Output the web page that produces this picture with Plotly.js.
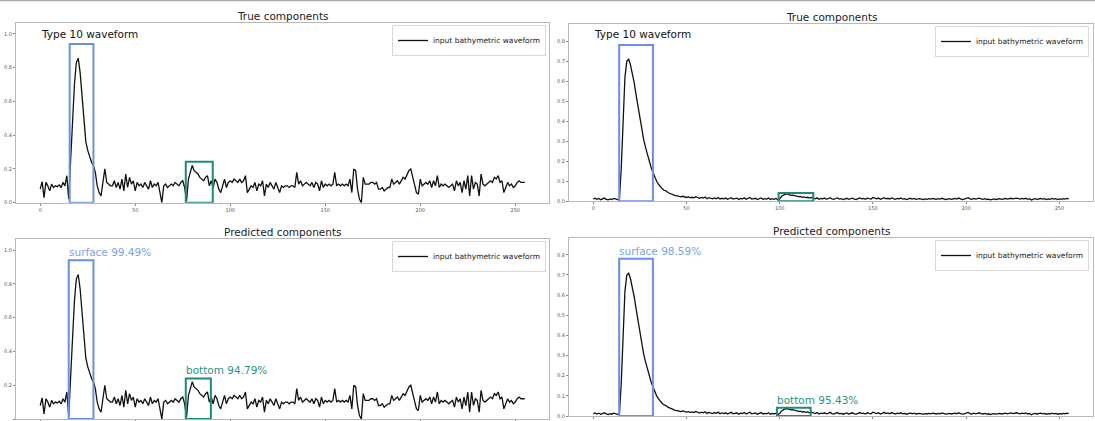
<!DOCTYPE html>
<html>
<head>
<meta charset="utf-8">
<script src="https://cdn.plot.ly/plotly-3.0.1.min.js"></script>
<style>html,body{margin:0;padding:0;background:#fff;}#chart{width:1095px;height:421px;}</style>
</head>
<body>
<div id="chart"></div>
<script>
// ---------- data ----------
const seriesName = "input bathymetric waveform";
const titleTrue = "True components";
const titlePred = "Predicted components";
const typeLabel = "Type 10 waveform";

// left waveform (bins 0..255)
const waveLeft = [
0.08,0.125,0.03,0.12,0.10,0.07,0.11,0.09,0.10,0.095,0.105,0.09,0.12,0.10,0.16,0.02,0.25,0.48,0.70,0.83,
0.856,0.77,0.62,0.48,0.36,0.31,0.27,0.24,0.22,0.18,0.10,0.06,0.04,0.12,0.20,0.12,0.11,0.10,0.10,0.13,
0.09,0.12,0.08,0.14,0.07,0.17,0.09,0.15,0.11,0.13,0.07,0.12,0.10,0.11,0.09,0.12,0.10,0.08,0.13,0.09,
0.11,0.10,0.12,0.06,0.00,0.10,0.11,0.09,0.10,0.11,0.10,0.12,0.11,0.10,0.12,0.13,0.09,0.01,0.14,0.18,
0.22,0.19,0.18,0.17,0.15,0.14,0.13,0.15,0.16,0.10,0.13,0.09,0.14,0.12,0.08,0.06,0.10,0.14,0.09,0.12,
0.13,0.12,0.14,0.13,0.12,0.14,0.12,0.13,0.16,0.06,0.08,0.10,0.09,0.12,0.07,0.11,0.10,0.13,0.04,0.11,
0.09,0.12,0.10,0.08,0.12,0.09,0.06,0.10,0.09,0.10,0.10,0.09,0.10,0.10,0.09,0.18,0.11,0.13,0.10,0.11,
0.12,0.11,0.10,0.12,0.09,0.12,0.11,0.07,0.13,0.09,0.11,0.10,0.11,0.10,0.11,0.18,0.10,0.11,0.10,0.11,
0.10,0.11,0.10,0.14,0.06,0.20,0.19,0.08,0.02,0.00,0.15,0.11,0.11,0.11,0.12,0.12,0.11,0.12,0.08,0.08,
0.09,0.07,0.08,0.09,0.09,0.14,0.11,0.12,0.13,0.11,0.13,0.15,0.14,0.17,0.19,0.20,0.15,0.11,0.06,0.05,
0.14,0.10,0.11,0.12,0.11,0.13,0.09,0.13,0.10,0.16,0.09,0.11,0.10,0.11,0.10,0.09,0.10,0.11,0.07,0.13,
0.10,0.12,0.06,0.13,0.08,0.16,0.04,0.16,0.08,0.12,0.11,0.04,0.17,0.11,0.10,0.11,0.12,0.13,0.12,0.15,
0.14,0.16,0.12,0.13,0.06,0.09,0.12,0.10,0.11,0.09,0.10,0.12,0.13,0.12,0.12,0.12
];

// right waveform (bins 0..255)
const waveRight = [
0.012,0.015,0.010,0.014,0.008,0.012,0.016,0.010,0.007,0.012,0.009,0.014,0.011,0.008,0.006,0.16,0.40,0.62,0.70,0.709,
0.68,0.64,0.59,0.53,0.47,0.41,0.36,0.31,0.27,0.235,0.20,0.17,0.145,0.12,0.10,0.085,0.072,0.062,0.055,0.052,
0.044,0.040,0.036,0.030,0.028,0.027,0.024,0.022,0.025,0.021,0.019,0.022,0.018,0.020,0.017,0.023,0.018,0.015,0.019,0.016,
0.021,0.013,0.018,0.014,0.012,0.017,0.013,0.019,0.011,0.015,0.012,0.016,0.010,0.014,0.018,0.011,0.013,0.016,0.009,0.014,
0.012,0.017,0.010,0.013,0.019,0.011,0.012,0.015,0.009,0.014,0.017,0.010,0.013,0.011,0.016,0.009,0.013,0.010,0.014,0.008,
0.012,0.025,0.032,0.036,0.037,0.033,0.030,0.031,0.027,0.026,0.023,0.024,0.020,0.022,0.018,0.020,0.016,0.019,0.014,0.012,
0.017,0.010,0.014,0.012,0.016,0.011,0.013,0.018,0.012,0.010,0.014,0.017,0.011,0.013,0.009,0.012,0.015,0.010,0.013,0.016,
0.011,0.009,0.013,0.017,0.012,0.014,0.010,0.016,0.013,0.011,0.019,0.014,0.012,0.016,0.010,0.013,0.018,0.012,0.015,0.011,
0.017,0.013,0.010,0.014,0.012,0.016,0.011,0.013,0.009,0.012,0.015,0.011,0.014,0.010,0.012,0.013,0.011,0.009,0.012,0.010,
0.013,0.011,0.014,0.012,0.010,0.013,0.011,0.015,0.012,0.009,0.011,0.013,0.010,0.012,0.014,0.011,0.016,0.012,0.009,0.011,
0.015,0.018,0.012,0.010,0.014,0.011,0.013,0.016,0.012,0.010,0.013,0.009,0.011,0.007,0.010,0.012,0.009,0.011,0.013,0.010,
0.012,0.014,0.011,0.013,0.015,0.012,0.014,0.016,0.013,0.011,0.014,0.012,0.015,0.010,0.013,0.006,0.011,0.013,0.010,0.012,
0.014,0.011,0.013,0.009,0.012,0.010,0.014,0.011,0.013,0.009,0.012,0.010,0.013,0.011,0.014,0.012
];

// component boxes: [x0, x1, top]
const leftTrueSurface  = [15.5, 28.0, 0.94];
const leftTrueBottom   = [76.6, 90.8, 0.243];
const leftPredSurface  = [15.0, 28.0, 0.94];
const leftPredBottom   = [76.6, 89.8, 0.24];
const rightTrueSurface = [13.9, 32.0, 0.78];
const rightTrueBottom  = [99.4, 118.0, 0.041];
const rightPredSurface = [13.9, 32.0, 0.78];
const rightPredBottom  = [98.5, 116.6, 0.041];

const leftPredLabels  = ["surface 99.49%", "bottom 94.79%"];
const rightPredLabels = ["surface 98.59%", "bottom 95.43%"];

const leftYTicks  = [0, 0.2, 0.4, 0.6, 0.8, 1.0];
const rightYTicks = [0, 0.1, 0.2, 0.3, 0.4, 0.5, 0.6, 0.7, 0.8];
const xTicks = [0, 50, 100, 150, 200, 250];

// ---------- build ----------
const bins = waveLeft.map((_, i) => i);
const binsR = waveRight.map((_, i) => i);

const BLUE = '#6a8fe8';
const BLUE_TXT = '#7aa2ee';
const TEAL = '#1d8a7c';
const TEAL_TXT = '#2a9486';
const FONT = 'DejaVu Sans, Liberation Sans, sans-serif';

function tr(x, y, xa, ya, leg) {
  return {x: x, y: y, xaxis: xa, yaxis: ya, type: 'scatter', mode: 'lines',
    name: seriesName, legend: leg, line: {color: '#111', width: 1.3}, showlegend: true};
}
const data = [
  tr(bins, waveLeft, 'x', 'y', 'legend'),
  tr(bins, waveLeft, 'x2', 'y2', 'legend2'),
  tr(binsR, waveRight, 'x3', 'y3', 'legend3'),
  tr(binsR, waveRight, 'x4', 'y4', 'legend4')
];

const xL = [16/1095, 549/1095], xR = [569/1095, 1093/1095];
function xax(dom, anchor, rng) {
  return {domain: dom, anchor: anchor, range: rng, tickvals: xTicks, ticks: 'outside', ticklen: 2,
    tickcolor: '#888', tickfont: {size: 5, color: '#555'}, showgrid: false, zeroline: false,
    showline: true, mirror: true, linecolor: '#b8b8b8', linewidth: 1};
}
function yax(dom, anchor, rng, tv) {
  return {domain: dom, anchor: anchor, range: rng, tickvals: tv, tickformat: '.1f', ticks: 'outside', ticklen: 2,
    tickcolor: '#888', tickfont: {size: 5, color: '#555'}, showgrid: false, zeroline: false,
    showline: true, mirror: true, linecolor: '#b8b8b8', linewidth: 1};
}

function box(b, xr, yr, col) {
  return {type: 'rect', xref: xr, yref: yr, x0: b[0], x1: b[1], y0: 0, y1: b[2],
    line: {color: col, width: 2}, fillcolor: 'rgba(0,0,0,0)'};
}
const shapes = [
  box(leftTrueSurface, 'x', 'y', BLUE), box(leftTrueBottom, 'x', 'y', TEAL),
  box(leftPredSurface, 'x2', 'y2', BLUE), box(leftPredBottom, 'x2', 'y2', TEAL),
  box(rightTrueSurface, 'x3', 'y3', BLUE), box(rightTrueBottom, 'x3', 'y3', TEAL),
  box(rightPredSurface, 'x4', 'y4', BLUE), box(rightPredBottom, 'x4', 'y4', TEAL),
  {type: 'line', xref: 'paper', yref: 'paper', x0: 0, x1: 1, y0: 0.999, y1: 0.999, line: {color: '#aaa', width: 1.5}}
];

function ttl(text, xpix, ypix) {
  return {text: text, xref: 'paper', yref: 'paper', x: xpix/1095, y: 1 - ypix/421,
    xanchor: 'center', yanchor: 'middle', showarrow: false, font: {family: FONT, size: 10.5, color: '#222'}};
}
function lbl(text, b, xr, yr, col, sz) {
  return {text: text, xref: xr, yref: yr, x: b[0], y: b[2], xanchor: 'left', yanchor: 'bottom',
    showarrow: false, xshift: -2, yshift: 0, font: {family: FONT, size: sz, color: col}};
}
const annotations = [
  ttl(titleTrue, 283, 16), ttl(titlePred, 283, 232),
  ttl(titleTrue, 832, 17), ttl(titlePred, 832, 231),
  {text: typeLabel, xref: 'paper', yref: 'paper', x: 39/1095, y: 1 - 34/421, xanchor: 'left', yanchor: 'middle',
    showarrow: false, font: {family: FONT, size: 10.5, color: '#111'}},
  {text: typeLabel, xref: 'paper', yref: 'paper', x: 592/1095, y: 1 - 34/421, xanchor: 'left', yanchor: 'middle',
    showarrow: false, font: {family: FONT, size: 10.5, color: '#111'}},
  lbl(leftPredLabels[0], leftPredSurface, 'x2', 'y2', BLUE_TXT, 10.5),
  lbl(leftPredLabels[1], leftPredBottom, 'x2', 'y2', TEAL_TXT, 10.5),
  lbl(rightPredLabels[0], rightPredSurface, 'x4', 'y4', BLUE_TXT, 10.5),
  lbl(rightPredLabels[1], rightPredBottom, 'x4', 'y4', TEAL_TXT, 10.5)
];

function leg(xp, yp) {
  return {x: xp/1095, y: 1 - yp/421, xanchor: 'right', yanchor: 'top', bgcolor: 'rgba(255,255,255,0.85)',
    bordercolor: '#d8d8d8', borderwidth: 1, font: {family: FONT, size: 7.5, color: '#222'}, itemwidth: 30,
    tracegroupgap: 0};
}

const layout = {
  width: 1095, height: 421, margin: {l: 0, r: 0, t: 0, b: 0},
  paper_bgcolor: '#fff', plot_bgcolor: '#fff', font: {family: FONT},
  xaxis:  xax(xL, 'y',  [-12.75, 267.75]),
  xaxis2: xax(xL, 'y2', [-12.75, 267.75]),
  xaxis3: xax(xR, 'y3', [-13, 268]),
  xaxis4: xax(xR, 'y4', [-13, 268]),
  yaxis:  yax([(421-202.7)/421, (421-22.7)/421], 'x',  [0, 1.066], leftYTicks),
  yaxis2: yax([(421-419)/421, (421-239)/421],   'x2', [0, 1.066], leftYTicks),
  yaxis3: yax([(421-201.3)/421, (421-24)/421],  'x3', [0, 0.885], rightYTicks),
  yaxis4: yax([(421-416)/421, (421-237.7)/421], 'x4', [0, 0.885], rightYTicks),
  legend: leg(546, 25), legend2: leg(546, 241), legend3: leg(1089, 26), legend4: leg(1089, 240),
  shapes: shapes, annotations: annotations, showlegend: true
};

Plotly.newPlot('chart', data, layout, {staticPlot: true, displayModeBar: false});
</script>
</body>
</html>
